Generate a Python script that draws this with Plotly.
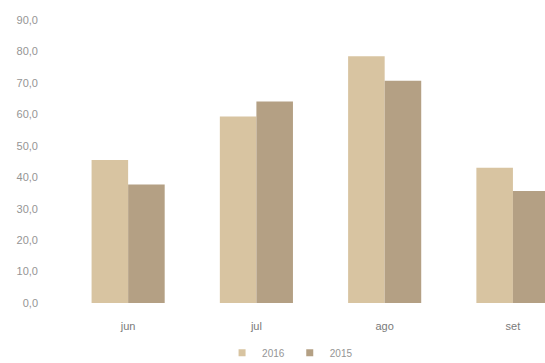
import plotly.graph_objects as go

# Monthly values, 2016 vs 2015
months = ["jun", "jul", "ago", "set"]
values_2016 = [45.5, 59.3, 78.5, 43.0]
values_2015 = [37.7, 64.1, 70.7, 35.6]
series_names = ["2016", "2015"]
y_ticks = [0, 10, 20, 30, 40, 50, 60, 70, 80, 90]

color_2016 = "#d8c4a1"
color_2015 = "#b4a084"
label_color = "#959595"

fig = go.Figure()
for name, vals, col in zip(series_names, [values_2016, values_2015], [color_2016, color_2015]):
    fig.add_trace(go.Bar(name=name, x=months, y=vals, showlegend=False,
                         marker=dict(color=col, line=dict(width=0))))
    # compact square legend keys
    fig.add_trace(go.Scatter(name=name, x=[None], y=[None], mode="markers",
                             marker=dict(symbol="square", size=7, color=col),
                             showlegend=True))

fig.update_layout(
    width=545, height=363,
    margin=dict(l=64, r=0, t=20, b=60, autoexpand=False),
    paper_bgcolor="white", plot_bgcolor="white",
    separators=",.",
    barmode="group", bargap=0.43, bargroupgap=0,
    font=dict(family="Liberation Sans, Arial, sans-serif", size=11, color=label_color),
    showlegend=True,
    legend=dict(orientation="h", x=0.47, xanchor="center",
                yref="container", y=0.028, yanchor="middle",
                font=dict(size=10, color=label_color), itemwidth=30,
                itemsizing="trace", tracegroupgap=0),
)
fig.update_xaxes(range=[-0.5, 3.25], showgrid=False, showline=False, zeroline=False,
                 ticks="", ticklabelstandoff=15, tickfont=dict(size=11, color="#7a7a7a"))
fig.update_yaxes(range=[0, 90], tickvals=y_ticks, tickformat=".1f",
                 showgrid=False, showline=False, zeroline=False,
                 ticks="", ticklabelstandoff=25, tickfont=dict(size=11, color=label_color))

fig.write_html("out.html")
